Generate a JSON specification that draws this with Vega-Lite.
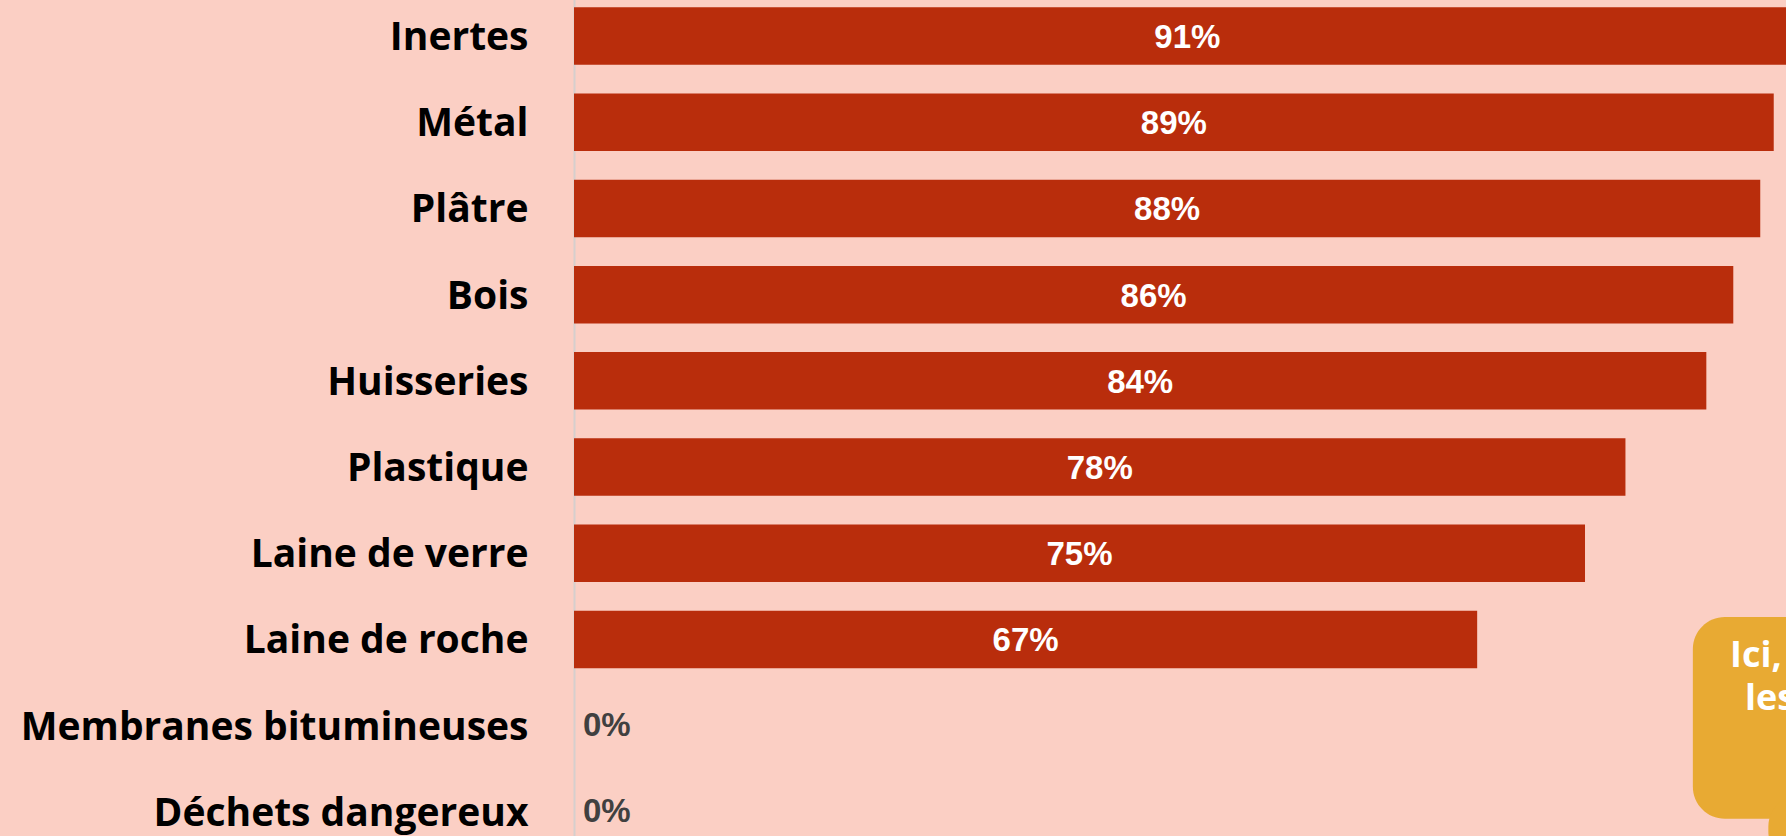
{
  "$schema": "https://vega.github.io/schema/vega-lite/v6.json",
  "width": 1212,
  "height": 836,
  "autosize": {"type": "none"},
  "padding": {"left": 574, "top": 0, "right": 0, "bottom": 0},
  "background": "#fbcfc4",
  "config": {"view": {"stroke": null}},
  "data": {
    "values": [
      {"cat": "Inertes", "value": 0.91},
      {"cat": "Métal", "value": 0.89},
      {"cat": "Plâtre", "value": 0.88},
      {"cat": "Bois", "value": 0.86},
      {"cat": "Huisseries", "value": 0.84},
      {"cat": "Plastique", "value": 0.78},
      {"cat": "Laine de verre", "value": 0.75},
      {"cat": "Laine de roche", "value": 0.67},
      {"cat": "Membranes bitumineuses", "value": 0},
      {"cat": "Déchets dangereux", "value": 0}
    ]
  },
  "layer": [
    {
      "mark": {"type": "bar", "color": "#b92d0c", "clip": true},
      "encoding": {
        "y": {
          "field": "cat", "type": "nominal", "sort": null,
          "scale": {"range": [-7.1, 855], "paddingInner": 0.333, "paddingOuter": 0.1667},
          "axis": {
            "title": null, "ticks": false, "grid": false,
            "domain": true, "domainColor": "#d6cfcd", "domainWidth": 2,
            "labelFont": "Open Sans", "labelFontWeight": "bold", "labelFontSize": 39,
            "labelColor": "#000000", "labelPadding": 46, "labelBaseline": "alphabetic",
            "labelOffset": 14, "labelLimit": 0
          }
        },
        "x": {"field": "value", "type": "quantitative", "scale": {"domain": [0, 0.8991], "nice": false}, "axis": null}
      }
    },
    {
      "transform": [{"filter": "datum.value > 0"}],
      "mark": {"type": "text", "color": "#ffffff", "font": "Liberation Sans", "fontWeight": "bold", "fontSize": 33, "align": "center", "baseline": "alphabetic", "dy": 12},
      "encoding": {
        "y": {"field": "cat", "type": "nominal", "sort": null, "scale": {"domain": ["Inertes", "Métal", "Plâtre", "Bois", "Huisseries", "Plastique", "Laine de verre", "Laine de roche", "Membranes bitumineuses", "Déchets dangereux"], "range": [-7.1, 855], "paddingInner": 0.333, "paddingOuter": 0.1667}, "axis": null},
        "x": {"field": "value", "type": "quantitative", "scale": {"domain": [0, 1.7982], "nice": false}, "axis": null},
        "text": {"field": "value", "type": "quantitative", "format": ".0%"}
      }
    },
    {
      "transform": [{"filter": "datum.value == 0"}],
      "mark": {"type": "text", "color": "#404040", "font": "Liberation Sans", "fontWeight": "bold", "fontSize": 33, "align": "left", "baseline": "alphabetic", "dx": 9, "dy": 10},
      "encoding": {
        "y": {"field": "cat", "type": "nominal", "sort": null, "scale": {"domain": ["Inertes", "Métal", "Plâtre", "Bois", "Huisseries", "Plastique", "Laine de verre", "Laine de roche", "Membranes bitumineuses", "Déchets dangereux"], "range": [-7.1, 855], "paddingInner": 0.333, "paddingOuter": 0.1667}, "axis": null},
        "x": {"field": "value", "type": "quantitative", "scale": {"domain": [0, 0.8991], "nice": false}, "axis": null},
        "text": {"field": "value", "type": "quantitative", "format": ".0%"}
      }
    },
    {
      "data": {"values": [
        {"x": 0.83, "x2": 0.97, "y": 6.74, "y2": 9.08},
        {"x": 0.886, "x2": 0.97, "y": 8.8, "y2": 9.6}
      ]},
      "mark": {"type": "rect", "color": "#e8aa33", "cornerRadius": 32, "clip": true},
      "encoding": {
        "x": {"field": "x", "type": "quantitative", "scale": {"domain": [0, 0.8991], "nice": false}, "axis": null},
        "x2": {"field": "x2"},
        "y": {"field": "y", "type": "quantitative", "scale": {"domain": [-0.5, 9.5], "range": [-7.1, 855], "nice": false, "zero": false}, "axis": null},
        "y2": {"field": "y2"}
      }
    },
    {
      "data": {"values": [
        {"t": "Ici,", "x": 0.8576, "y": 7.32},
        {"t": "les", "x": 0.8687, "y": 7.82}
      ]},
      "mark": {"type": "text", "color": "#ffffff", "font": "Open Sans", "fontWeight": "bold", "fontSize": 36, "align": "left", "baseline": "alphabetic"},
      "encoding": {
        "x": {"field": "x", "type": "quantitative", "scale": {"domain": [0, 0.8991], "nice": false}, "axis": null},
        "y": {"field": "y", "type": "quantitative", "scale": {"domain": [-0.5, 9.5], "range": [-7.1, 855], "nice": false, "zero": false}, "axis": null},
        "text": {"field": "t"}
      }
    }
  ],
  "resolve": {"scale": {"x": "independent", "y": "independent"}}
}
